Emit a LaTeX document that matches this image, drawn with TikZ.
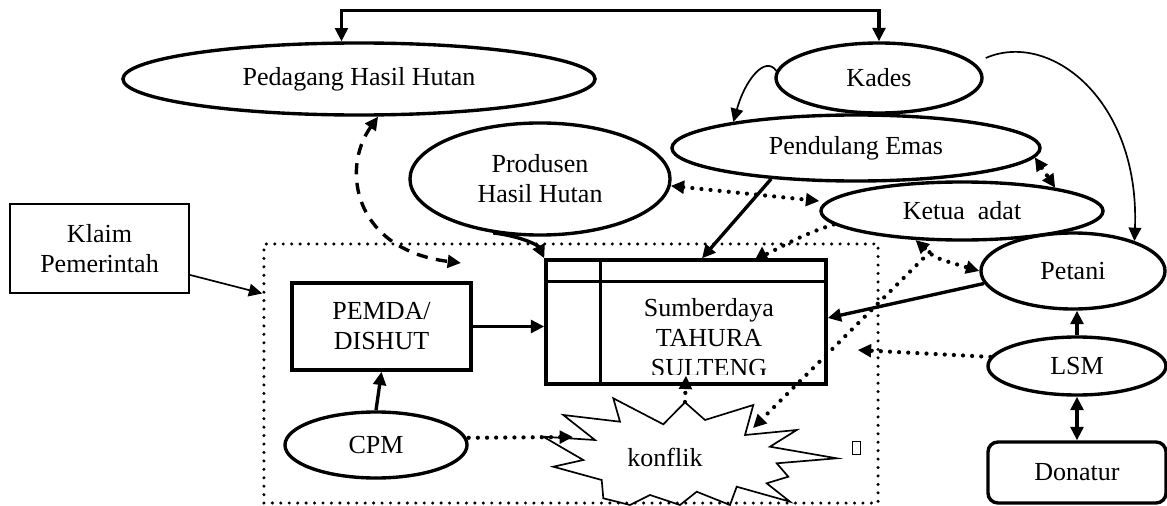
\documentclass[tikz,border=0pt]{standalone}
\usepackage{fontspec}
\setmainfont{Liberation Serif}
\usetikzlibrary{arrows.meta,shapes.geometric}

\begin{document}
\begin{tikzpicture}[x=0.025cm,y=-0.025cm,
    txt/.style={font=\fontsize{18.5}{21.3}\selectfont,align=center},
    oval/.style={ellipse,draw,line width=2.4pt,inner sep=0pt,txt},
    blok/.style={rectangle,draw,line width=2.4pt,inner sep=0pt,txt},
    tip/.style={-{Triangle[length=9.5pt,width=9pt]}},
    tips/.style={{Triangle[length=9.5pt,width=9pt]}-{Triangle[length=9.5pt,width=9pt]}},
    tebal/.style={line width=2.4pt},
    tipis/.style={line width=1.2pt},
    titik/.style={line width=3pt,line cap=round,dash pattern=on 0pt off 6.5pt},
    garis/.style={line width=2.4pt,dash pattern=on 8pt off 6pt}]
  \useasboundingbox (0,0) rectangle (1167,506);

  % kotak wilayah (titik-titik)
  \node[draw,line width=2.4pt,line cap=round,dash pattern=on 0pt off 6pt,
        minimum width=15.35cm,minimum height=6.475cm] (area) at (571,373.5) {};

  % aktor
  \foreach \nm/\xx/\yy/\w/\h/\teks in {
      pedagang/359/79/11.8/1.8/Pedagang Hasil Hutan,
      kades/879/78/5.15/1.75/Kades,
      pendulang/856/148/9.2/1.65/Pendulang Emas,
      produsen/540/179/6.5/2.8/Produsen\\Hasil Hutan,
      ketua/962/211/7.05/1.45/Ketua~ adat,
      petani/1073/271/4.6/1.9/Petani,
      lsm/1077/366/4.45/1.45/LSM,
      cpm/376/445/4.55/1.65/CPM}
    \node[oval,minimum width=\w cm,minimum height=\h cm] (\nm) at (\xx,\yy) {\teks};

  \node[draw,tipis,txt,minimum width=4.475cm,minimum height=2.225cm] (klaim) at (99.5,248.5) {Klaim\\Pemerintah};
  \node[blok,minimum width=4.475cm,minimum height=2.175cm] (pemda) at (381.5,326.5) {PEMDA/\\DISHUT};
  \node[blok,rounded corners=0.25cm,minimum width=4.45cm,minimum height=1.525cm] (donatur) at (1077,472.5) {Donatur};

  % sumberdaya
  \node[blok,minimum width=7cm,minimum height=3.1cm] (sumber) at (686,322) {};
  \draw[tebal] (sumber.north west) ++(0,23) -- ++(280,0);
  \draw[tebal] (sumber.north west) ++(56,0) -- ++(0,124);
  \begin{scope}
    \clip (602,283) rectangle (826,374);
    \node[txt] (sumbertxt) at (709,338) {Sumberdaya\\TAHURA\\SULTENG};
  \end{scope}

  % konflik
  \draw[tipis] (543.3,436.7) -- (595,440) -- (563.3,415) -- (620,421.7) -- (613.3,398.3)
    -- (663.3,424.3) -- (685,402.3) -- (705,420) -- (753.3,405) -- (745,435) -- (796.7,430)
    -- (770,446.7) -- (836.7,458.3) -- (776.7,463.3) -- (788.3,476.7) -- (766.7,483.3)
    -- (790,501.7) -- (736.7,486.7) -- (730,505) -- (696.7,491.7) -- (680,505) -- (650,495)
    -- (630,505) -- (603.3,498.3) -- (601.7,480) -- (553.3,466.7) -- (583.3,460) -- cycle;
  \node[txt] (konflik) at (665,457) {konflik};
  \coordinate (kiri) at (573,437);
  \coordinate (puncak) at (685,402);
  \coordinate (kanan) at (753,428);
  \node[draw,line width=0.6pt,minimum width=0.2cm,minimum height=0.33cm,inner sep=0pt] (kotak) at (856,448) {};

  % panah
  \draw[tebal,tips] (pedagang.115) -- ++(0,-31) -| (kades.north);
  \coordinate (dashend) at (461,263);
  \draw[garis,tips] (pedagang.-63) .. controls (340,170) and (355,250) .. (dashend);
  \draw[tipis,tip] (kades.176) .. controls (765,55) and (745,80) .. (pendulang.168);
  \draw[tipis,tip] (kades.east) ++(2,-20) .. controls (1050,30) and (1140,100) .. (petani.26);
  \draw[tebal,tip] (produsen.-131) .. controls (520,236) and (538,245) .. (sumber.north west);
  \draw[tebal,tip] (pendulang.-160) -- ([xshift=0.4cm]sumber.north);
  \draw[titik,tips] (produsen.-3) -- ([yshift=0.25cm]ketua.west);
  \draw[titik,tips] (pendulang.-3) -- (ketua.14);
  \draw[titik] (ketua.186) .. controls (800,235) and (780,248) .. ([xshift=2cm,yshift=0.1cm]sumber.north);
  \draw[tebal,tip] ([xshift=1.9cm]sumber.north) -- ++(0,-12);
  \draw[tebal,tip] (petani.188) -- ([yshift=0.1cm]sumber.east);
  \draw[titik,tips] (ketua.212) .. controls (935,258) .. (petani.west) coordinate[pos=0.3] (simpang);
  \draw[titik,tip] (simpang) -- (kanan);
  \draw[tipis,tip] ([yshift=-0.66cm]klaim.east) -- ([yshift=2cm]area.west);
  \draw[tebal,tip] (pemda.east) -- (pemda.east -| sumber.west);
  \draw[tebal,tip] (cpm.north) -- (pemda.south);
  \draw[titik,tip] ([yshift=0.18cm]cpm.east) -- (kiri);
  \draw[titik,tip] (puncak) -- ([yshift=0.25cm]sumber.south);
  \draw[tebal,tip] (lsm.north) -- (lsm.north |- petani.south);
  \draw[titik,tip] (lsm.174) -- ([xshift=0.75cm,yshift=-0.7cm]sumber.east);
  \draw[tebal,tips] (lsm.south) -- (donatur.north);
\end{tikzpicture}
\end{document}
